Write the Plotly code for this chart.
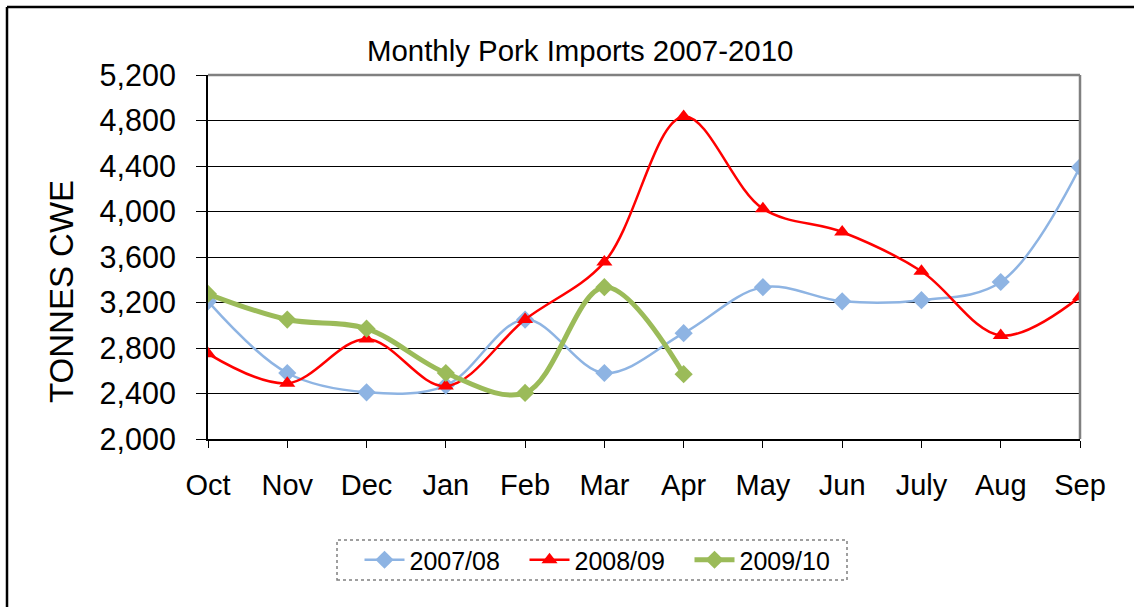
import plotly.graph_objects as go

months = ["Oct", "Nov", "Dec", "Jan", "Feb", "Mar", "Apr", "May", "Jun", "July", "Aug", "Sep"]
s0708 = [3210, 2580, 2410, 2470, 3050, 2580, 2930, 3335, 3210, 3220, 3380, 4390]
s0809 = [2750, 2490, 2880, 2465, 3050, 3555, 4835, 4025, 3820, 3475, 2910, 3250]
s0910 = [3275, 3050, 2970, 2580, 2405, 3335, 2570]
y_ticks = [2000, 2400, 2800, 3200, 3600, 4000, 4400, 4800, 5200]

W, H = 1134, 607
L, R, T, B = 208, 54, 75, 168
pw, ph = W - L - R, H - T - B

def px(x):
    return (x - L) / pw

def py(y):
    return (H - B - y) / ph

FONT = "Liberation Sans, Arial, sans-serif"
xs = list(range(len(months)))

fig = go.Figure()
fig.add_trace(go.Scatter(
    x=xs, y=s0708, name="2007/08", mode="lines+markers",
    line=dict(color="#8EB4E3", width=2.5, shape="spline", smoothing=1),
    marker=dict(symbol="diamond", size=14, color="#8EB4E3")))
fig.add_trace(go.Scatter(
    x=xs, y=s0809, name="2008/09", mode="lines+markers",
    line=dict(color="#FF0000", width=2.5, shape="spline", smoothing=1),
    marker=dict(symbol="triangle-up", size=14, color="#FF0000")))
fig.add_trace(go.Scatter(
    x=xs[:len(s0910)], y=s0910, name="2009/10", mode="lines+markers",
    line=dict(color="#9BBB59", width=5, shape="spline", smoothing=1),
    marker=dict(symbol="diamond", size=14, color="#9BBB59")))

fig.update_layout(
    width=W, height=H,
    margin=dict(l=L, r=R, t=T, b=B),
    paper_bgcolor="white", plot_bgcolor="white",
    font=dict(family=FONT, color="black"),
    showlegend=True,
    legend=dict(orientation="h", x=px(607), y=py(560), xanchor="center", yanchor="middle",
                font=dict(size=25, family=FONT), bgcolor="rgba(0,0,0,0)", borderwidth=0,
                itemwidth=40, entrywidth=110, entrywidthmode="pixels", tracegroupgap=0),
    xaxis=dict(range=[0, 11], tickvals=xs, ticktext=months, showgrid=False,
               showline=True, linecolor="black", linewidth=2,
               ticks="outside", ticklen=7, tickcolor="black", tickwidth=1,
               tickfont=dict(size=29, family=FONT), ticklabelstandoff=12, zeroline=False),
    yaxis=dict(range=[2000, 5200], tickvals=y_ticks, tickformat=",d",
               showgrid=True, gridcolor="#000000", gridwidth=1,
               showline=True, linecolor="black", linewidth=2,
               ticks="outside", ticklen=10, tickcolor="black", tickwidth=1,
               tickfont=dict(size=30.5, family=FONT), ticklabelstandoff=14, zeroline=False),
    annotations=[
        dict(text="Monthly Pork Imports 2007-2010", x=px(580), y=py(50), xref="paper", yref="paper",
             showarrow=False, font=dict(size=29.4, family=FONT), xanchor="center", yanchor="middle"),
        dict(text="TONNES CWE", x=px(61), y=py(292), xref="paper", yref="paper", textangle=-90,
             showarrow=False, font=dict(size=33, family=FONT), xanchor="center", yanchor="middle"),
    ],
    shapes=[
        dict(type="line", xref="paper", yref="paper", x0=px(7), x1=px(7), y0=py(620), y1=py(7),
             line=dict(color="black", width=2.5), layer="below"),
        dict(type="line", xref="paper", yref="paper", x0=px(7), x1=px(1150), y0=py(7), y1=py(7),
             line=dict(color="black", width=2.5), layer="below"),
        dict(type="line", xref="paper", yref="paper", x0=0, x1=1, y0=1, y1=1,
             line=dict(color="#808080", width=2.5)),
        dict(type="line", xref="paper", yref="paper", x0=1, x1=1, y0=0, y1=1,
             line=dict(color="#808080", width=2.5)),
        dict(type="rect", xref="paper", yref="paper", x0=px(337), x1=px(847), y0=py(580), y1=py(540),
             line=dict(color="#808080", width=1.5, dash="dot")),
    ],
)

fig.write_html("out.html", config={"displayModeBar": False},
               post_script="document.body.style.margin='0';document.body.style.overflow='hidden';")
